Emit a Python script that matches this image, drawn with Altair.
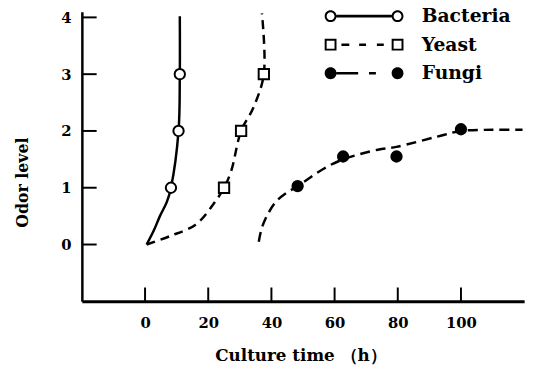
import altair as alt
import pandas as pd

# ---------------- data ----------------
series_names = ["Bacteria", "Yeast", "Fungi"]

bact_pt_x = [8.2, 10.6, 11.0]
bact_pt_y = [1, 2, 3]
yeast_pt_x = [25.0, 30.4, 37.6]
yeast_pt_y = [1, 2, 3]
fungi_pt_x = [48.3, 62.7, 79.6, 100.0]
fungi_pt_y = [1.03, 1.55, 1.55, 2.03]

bact_curve_x = [0.5, 2.8, 4.7, 6.9, 8.2, 10.6, 11.0, 11.0]
bact_curve_y = [0.0, 0.25, 0.5, 0.75, 1.0, 2.0, 3.0, 4.02]
yeast_curve_x = [0.5, 8.0, 16.0, 21.5, 25.0, 27.3, 30.4, 34.2, 37.6, 37.0]
yeast_curve_y = [0.0, 0.15, 0.35, 0.7, 1.0, 1.3, 2.0, 2.4, 3.0, 4.07]
fungi_curve_x = [36.0, 37.0, 39.0, 41.5, 44.5, 48.3, 56.4, 62.7, 73.7, 79.6, 92.5, 100.0, 110.0, 119.5]
fungi_curve_y = [0.05, 0.3, 0.55, 0.76, 0.9, 1.03, 1.33, 1.5, 1.67, 1.72, 1.9, 2.0, 2.02, 2.02]

x_ticks = [0, 20, 40, 60, 80, 100]
y_ticks = [0, 1, 2, 3, 4]

# ---------------- styling ----------------
FONT = "DejaVu Serif"
W, H = 449, 294
X_MIN, X_MAX = -20, 120
Y_MIN, Y_MAX = -1, 4.1
X_TICK_PX, Y_TICK_PX = 14, 15

x_scale = alt.Scale(domain=[X_MIN, X_MAX], nice=False, zero=False)
y_scale = alt.Scale(domain=[Y_MIN, Y_MAX], nice=False, zero=False)


def frame(xs, ys):
    return pd.DataFrame({"t": xs, "odor": ys, "idx": list(range(len(xs)))})


# inward tick segments: each tick runs from the axis line a fixed pixel length inward
x_len = X_TICK_PX * (Y_MAX - Y_MIN) / H
y_len = Y_TICK_PX * (X_MAX - X_MIN) / W
tick_segments = pd.DataFrame({
    "t": [v for v in x_ticks for _ in (0, 1)] + [X_MIN, X_MIN + y_len] * len(y_ticks),
    "odor": [Y_MIN, Y_MIN + x_len] * len(x_ticks) + [v for v in y_ticks for _ in (0, 1)],
    "tick": [f"x{v}" for v in x_ticks for _ in (0, 1)] + [f"y{v}" for v in y_ticks for _ in (0, 1)],
    "idx": [0, 1] * (len(x_ticks) + len(y_ticks)),
})
names = pd.DataFrame({"series": series_names})

x_main = alt.Axis(orient="bottom", values=x_ticks, format="d", ticks=False, grid=False,
                  domainColor="black", domainWidth=3,
                  labelFont=FONT, labelFontSize=15, labelFontWeight="bold", labelColor="black",
                  labelPadding=15,
                  title="Culture time （h）", titleFont=FONT, titleFontSize=17,
                  titleFontWeight="bold", titleColor="black",
                  titleX=222, titleY=55, titleBaseline="middle")
y_main = alt.Axis(orient="left", values=y_ticks, format="d", ticks=False, grid=False,
                  domainColor="black", domainWidth=2.5,
                  labelFont=FONT, labelFontSize=15, labelFontWeight="bold", labelColor="black",
                  labelPadding=11,
                  title="Odor level", titleFont=FONT, titleFontSize=16,
                  titleFontWeight="bold", titleColor="black",
                  titleX=-60, titleY=173, titleBaseline="middle")

X = alt.X("t:Q", scale=x_scale, axis=x_main)
Y = alt.Y("odor:Q", scale=y_scale, axis=y_main)


def curve(xs, ys, **style):
    return alt.Chart(frame(xs, ys)).mark_line(
        interpolate="catmull-rom", color="black", strokeWidth=2.5, **style
    ).encode(x=X, y=Y, order="idx:Q")


def markers(xs, ys, shape, fill):
    return alt.Chart(frame(xs, ys)).mark_point(
        shape=shape, filled=True, fill=fill, stroke="black", strokeWidth=2, size=110, opacity=1
    ).encode(x=X, y=Y)


ticks_layer = alt.Chart(tick_segments).mark_line(
    color="black", strokeWidth=2, strokeCap="butt"
).encode(x=X, y=Y, detail="tick:N", order="idx:Q")

# legend glyphs: all-fill paths in pixel units (symbol size 4 -> unit scale)
ring_l = "M-77,0A6,6 0 1,1 -65,0A6,6 0 1,1 -77,0ZM-75,0A4,4 0 1,0 -67,0A4,4 0 1,0 -75,0Z"
ring_r = "M-9,0A6,6 0 1,1 3,0A6,6 0 1,1 -9,0ZM-7,0A4,4 0 1,0 1,0A4,4 0 1,0 -7,0Z"
sq_l = "M-77,-6L-65,-6L-65,6L-77,6ZM-75,-4L-75,4L-67,4L-67,-4Z"
sq_r = "M-9,-6L3,-6L3,6L-9,6ZM-7,-4L-7,4L1,4L1,-4Z"
dot_l = "M-77,0A6,6 0 1,1 -65,0A6,6 0 1,1 -77,0Z"
dot_r = "M-9,0A6,6 0 1,1 3,0A6,6 0 1,1 -9,0Z"


def bar(a, b):
    return f"M{a},-1.3L{b},-1.3L{b},1.3L{a},1.3Z"


legend_paths = [
    ring_l + bar(-65, -9) + ring_r,
    sq_l + bar(-60, -52) + bar(-42, -35) + bar(-24, -17) + sq_r,
    dot_l + bar(-65, -43) + bar(-32, -25) + dot_r,
]

legend_layer = alt.Chart(names).transform_filter("false").mark_point(
    filled=True, fill="black", strokeWidth=0, size=4, opacity=1
).encode(
    shape=alt.Shape("series:N", scale=alt.Scale(domain=series_names, range=legend_paths),
                    legend=alt.Legend(orient="none", legendX=314, legendY=-5, title="", padding=0,
                                      labelFont=FONT, labelFontSize=19, labelFontWeight="bold",
                                      labelColor="black", labelOffset=12, symbolSize=4,
                                      symbolFillColor="black", symbolStrokeWidth=0,
                                      rowPadding=9)),
)

chart = alt.layer(
    curve(bact_curve_x, bact_curve_y),
    curve(yeast_curve_x, yeast_curve_y, strokeDash=[9, 6]),
    curve(fungi_curve_x, fungi_curve_y, strokeDash=[10, 6]),
    ticks_layer,
    markers(bact_pt_x, bact_pt_y, "circle", "white"),
    markers(yeast_pt_x, yeast_pt_y, "square", "white"),
    markers(fungi_pt_x, fungi_pt_y, "circle", "black"),
    legend_layer,
).properties(
    width=W, height=H,
    padding={"left": 75, "top": 1, "right": 9, "bottom": 68},
    autosize=alt.AutoSizeParams(type="none"),
    background="white",
).configure_view(strokeWidth=0)

chart.save("out.html", embed_options={"renderer": "svg", "actions": False})
